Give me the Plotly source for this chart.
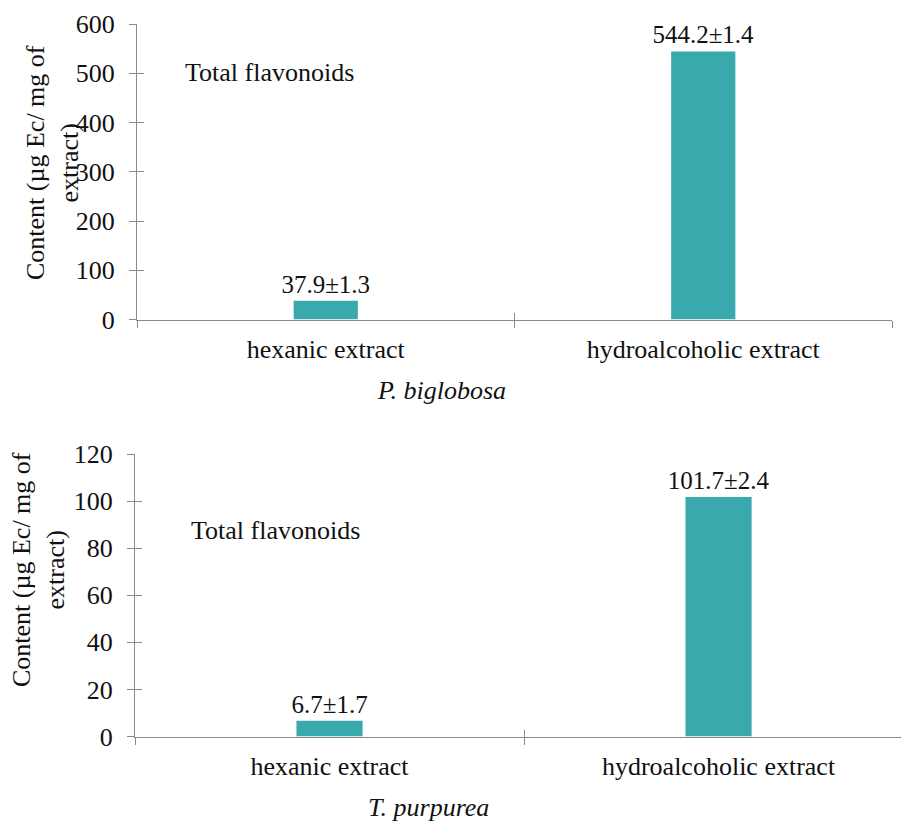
import plotly.graph_objects as go

categories = ["hexanic extract", "hydroalcoholic extract"]
pb_values = [37.9, 544.2]
pb_labels = ["37.9±1.3", "544.2±1.4"]
tp_values = [6.7, 101.7]
tp_labels = ["6.7±1.7", "101.7±2.4"]
pb_yticks = [0, 100, 200, 300, 400, 500, 600]
tp_yticks = [0, 20, 40, 60, 80, 100, 120]
boundaries = [-0.5, 0.5, 1.5]

W, H = 901, 821
BAR = "#39A9AD"
AX = "#8a8a8a"
SERIF = "Liberation Serif"
TXT = "#111111"

fig = go.Figure()
fig.add_trace(go.Bar(x=categories, y=pb_values, text=pb_labels, textposition="outside",
                     constraintext="none",
                     marker=dict(color=BAR, line=dict(width=0)), width=0.17,
                     textfont=dict(family=SERIF, size=25, color=TXT), cliponaxis=False,
                     xaxis="x", yaxis="y", showlegend=False))
fig.add_trace(go.Bar(x=categories, y=tp_values, text=tp_labels, textposition="outside",
                     constraintext="none",
                     marker=dict(color=BAR, line=dict(width=0)), width=0.17,
                     textfont=dict(family=SERIF, size=25, color=TXT), cliponaxis=False,
                     xaxis="x2", yaxis="y2", showlegend=False))

def px_x(p):
    return min(1.0, p / W)

def px_y(p):
    return 1 - p / H

tickfont = dict(family=SERIF, size=26, color=TXT)
xcommon = dict(type="category", showline=True, linecolor=AX, linewidth=1.3, ticks="outside",
               tickson="boundaries", ticklen=7, tickcolor=AX, tickwidth=1.3, tickfont=tickfont,
               showgrid=False, zeroline=False, ticklabelstandoff=6, automargin=False)
ycommon = dict(showline=True, linecolor=AX, linewidth=1.3, ticks="outside", ticklen=7,
               tickcolor=AX, tickwidth=1.3, tickfont=tickfont, showgrid=False, zeroline=False,
               ticklabelstandoff=9, automargin=False)
xin = dict(type="linear", tickmode="array", tickvals=boundaries, ticks="inside", ticklen=7,
           tickcolor=AX, tickwidth=1.3, showticklabels=False, showline=False, showgrid=False,
           zeroline=False, automargin=False)
yin = dict(ticks="inside", ticklen=7, tickcolor=AX, tickwidth=1.3, showticklabels=False,
           showline=False, showgrid=False, zeroline=False, side="left", automargin=False)

fig.update_layout(
    width=W, height=H, margin=dict(l=0, r=0, t=0, b=0, pad=0, autoexpand=False),
    paper_bgcolor="white", plot_bgcolor="white",
    xaxis=dict(domain=[px_x(137), px_x(892)], anchor="y", range=[-0.5, 1.5], **xcommon),
    yaxis=dict(domain=[px_y(319.5), px_y(24)], anchor="x", range=[0, 600],
               tickmode="array", tickvals=pb_yticks, **ycommon),
    xaxis2=dict(domain=[px_x(135), 1.0], anchor="y2", range=[-0.5, 1.469], **xcommon),
    yaxis2=dict(domain=[px_y(736.5), px_y(454)], anchor="x2", range=[0, 120],
                tickmode="array", tickvals=tp_yticks, **ycommon),
    xaxis3=dict(overlaying="x", anchor="y", range=[-0.5, 1.5], **xin),
    yaxis3=dict(overlaying="y", anchor="x", range=[0, 600], tickmode="array",
                tickvals=pb_yticks, **yin),
    xaxis4=dict(overlaying="x2", anchor="y2", range=[-0.5, 1.469], **xin),
    yaxis4=dict(overlaying="y2", anchor="x2", range=[0, 120], tickmode="array",
                tickvals=tp_yticks, **yin),
)

# invisible traces to activate overlay axes (used for the inner half of the crossing ticks)
fig.add_trace(go.Scatter(x=[None], y=[None], xaxis="x3", yaxis="y3", showlegend=False, hoverinfo="skip"))
fig.add_trace(go.Scatter(x=[None], y=[None], xaxis="x4", yaxis="y4", showlegend=False, hoverinfo="skip"))

annfont = dict(family=SERIF, size=26, color=TXT)
ytitle = "Content (µg Ec/ mg of<br>extract)"
fig.add_annotation(text=ytitle, textangle=-90, x=px_x(52), y=px_y(163), xref="paper", yref="paper",
                   showarrow=False, font=annfont, xanchor="center", yanchor="middle")
fig.add_annotation(text=ytitle, textangle=-90, x=px_x(38), y=px_y(570), xref="paper", yref="paper",
                   showarrow=False, font=annfont, xanchor="center", yanchor="middle")
fig.add_annotation(text="Total flavonoids", x=px_x(183), y=px_y(73), xref="paper", yref="paper",
                   showarrow=False, font=annfont, xanchor="left", yanchor="middle")
fig.add_annotation(text="Total flavonoids", x=px_x(189), y=px_y(530), xref="paper", yref="paper",
                   showarrow=False, font=annfont, xanchor="left", yanchor="middle")
fig.add_annotation(text="<i>P. biglobosa</i>", x=px_x(441), y=px_y(390), xref="paper", yref="paper",
                   showarrow=False, font=dict(family=SERIF, size=26, color=TXT), xanchor="center", yanchor="middle")
fig.add_annotation(text="<i>T. purpurea</i>", x=px_x(428), y=px_y(807), xref="paper", yref="paper",
                   showarrow=False, font=dict(family=SERIF, size=26, color=TXT), xanchor="center", yanchor="middle")

fig.write_html("out.html", config={"displayModeBar": False},
               post_script="document.body.style.margin='0';document.body.style.overflow='hidden';")
